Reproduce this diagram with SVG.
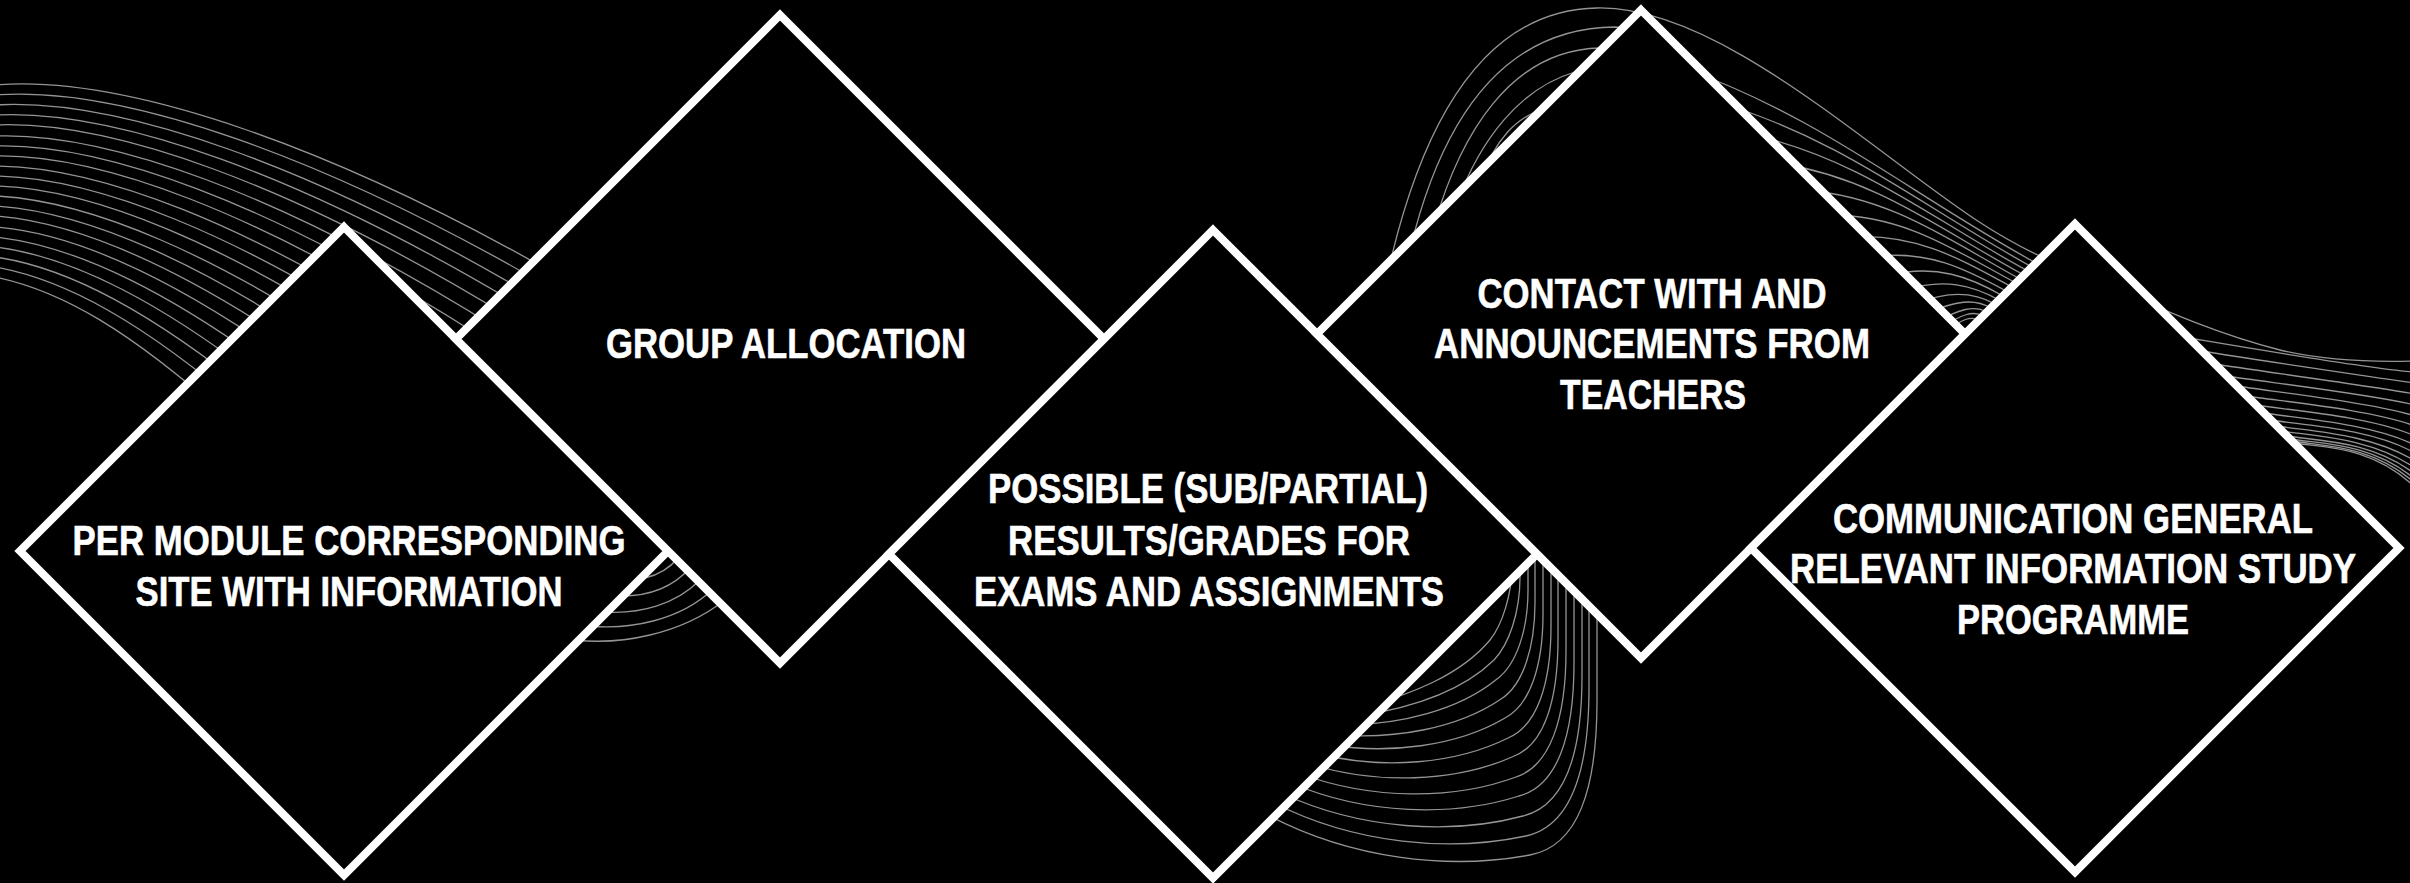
<svg xmlns="http://www.w3.org/2000/svg" width="2410" height="883" viewBox="0 0 2410 883">
<style>
.wave{fill:none;stroke:#949494;stroke-width:1.3}
.dia{fill:#000;stroke:#fff;stroke-width:8;stroke-linejoin:miter}
.lbl{fill:#fff;stroke:#fff;stroke-width:0.6px;font-family:"Liberation Sans Narrow","Arial Narrow","Liberation Sans",Arial,sans-serif;font-weight:700;font-size:42px;text-anchor:middle}
</style>
<rect width="2410" height="883" fill="#000"/>
<g id="waves" class="wave">
<path d="M-5,85 C120,75 330,140 600,300"/>
<path d="M-5,95 C117,86 320,150 581,306"/>
<path d="M-5,105 C114,98 309,160 561,313"/>
<path d="M-5,115 C111,109 298,170 542,319"/>
<path d="M-5,125 C107,120 288,180 522,325"/>
<path d="M-5,136 C104,132 277,190 503,332"/>
<path d="M-5,146 C101,143 267,200 483,338"/>
<path d="M-5,156 C98,154 256,210 464,344"/>
<path d="M-5,166 C95,166 246,220 444,351"/>
<path d="M-5,176 C92,177 235,230 425,357"/>
<path d="M-5,186 C88,188 225,240 405,363"/>
<path d="M-5,196 C85,200 214,250 386,370"/>
<path d="M-5,206 C82,211 204,260 366,376"/>
<path d="M-5,216 C79,222 193,270 347,382"/>
<path d="M-5,227 C76,233 183,280 327,388"/>
<path d="M-5,237 C73,245 172,290 308,395"/>
<path d="M-5,247 C70,256 162,300 288,401"/>
<path d="M-5,257 C66,267 151,310 269,407"/>
<path d="M-5,267 C63,279 141,320 250,414"/>
<path d="M-5,277 C60,290 130,330 230,420"/>
<path d="M575,640 C620,645 680,635 725,600"/>
<path d="M590,626 C630,630 680,620 712,590"/>
<path d="M605,612 C640,614 675,605 700,580"/>
<path d="M622,596 C650,596 672,588 690,568"/>
<path d="M645,578 C658,575 668,570 678,558"/>
<path d="M1262,812 C1350,860 1450,870 1530,855 C1578,846 1597,790 1597,700 L1597,540"/>
<path d="M1272,802 C1356,845 1451,852 1526,836 C1571,826 1589,772 1589,688 L1589,540"/>
<path d="M1281,793 C1361,830 1452,835 1523,816 C1564,806 1582,755 1582,676 L1582,540"/>
<path d="M1291,783 C1366,815 1453,817 1519,796 C1557,786 1574,737 1574,663 L1574,540"/>
<path d="M1301,774 C1372,800 1454,800 1516,777 C1550,766 1566,719 1566,651 L1566,540"/>
<path d="M1310,764 C1377,785 1455,782 1512,757 C1544,746 1558,701 1558,639 L1558,540"/>
<path d="M1320,754 C1383,770 1456,764 1508,738 C1537,726 1551,684 1551,626 L1551,540"/>
<path d="M1330,745 C1388,754 1456,747 1505,718 C1530,705 1543,666 1543,614 L1543,540"/>
<path d="M1339,735 C1394,739 1457,729 1501,699 C1523,685 1535,648 1535,602 L1535,540"/>
<path d="M1349,725 C1399,724 1458,711 1497,679 C1516,665 1528,631 1528,590 L1528,540"/>
<path d="M1358,716 C1405,709 1459,694 1494,660 C1509,644 1520,613 1520,577 L1520,540"/>
<path d="M1368,706 C1410,694 1460,676 1490,640 C1502,625 1512,595 1512,565 L1512,540"/>
<path d="M1388,272 C1420,130 1480,10 1597,8 C1690,6 1800,90 1900,165 C1960,210 2000,240 2060,265 C2130,294 2200,330 2280,350 C2330,362 2380,362 2415,361"/>
<path d="M1410,250 C1440,125 1500,28 1615,27 L1645,30"/>
<path d="M1434,226 C1460,135 1510,50 1600,48 L1630,52"/>
<path d="M1457,203 C1480,140 1520,88 1575,72 L1600,70"/>
<path d="M1481,180 C1495,140 1515,118 1545,108 L1560,105"/>
<path d="M1683,68 C1820,116 1913,196 2036,263 L2189,338 C2219,343 2370,369 2415,372"/>
<path d="M1717,102 C1841,138 1924,208 2032,267 L2202,351 C2232,356 2370,377 2415,383"/>
<path d="M1749,134 C1860,158 1933,220 2028,271 L2215,364 C2245,369 2370,386 2415,394"/>
<path d="M1778,163 C1877,178 1942,231 2024,275 L2227,376 C2257,381 2370,394 2415,405"/>
<path d="M1805,190 C1892,197 1950,241 2020,279 L2237,386 C2267,391 2370,402 2415,416"/>
<path d="M1830,215 C1905,215 1956,251 2016,283 L2247,396 C2277,401 2370,409 2415,426"/>
<path d="M1852,237 C1917,233 1962,260 2012,287 L2256,405 C2286,410 2370,416 2415,436"/>
<path d="M1872,257 C1927,249 1966,269 2008,292 L2264,413 C2294,418 2370,423 2415,445"/>
<path d="M1890,275 C1936,264 1970,277 2003,296 L2271,420 C2301,425 2370,428 2415,453"/>
<path d="M1905,290 C1944,278 1972,285 1999,300 L2277,426 C2307,431 2370,433 2415,461"/>
<path d="M1918,303 C1950,290 1974,292 1995,304 L2282,431 C2312,436 2370,437 2415,468"/>
<path d="M1928,313 C1955,301 1974,298 1991,308 L2287,436 C2317,441 2370,440 2415,474"/>
<path d="M1937,322 C1959,309 1974,305 1987,312 L2290,439 C2320,444 2370,442 2415,479"/>
<path d="M1942,327 C1961,315 1973,310 1983,316 L2292,441 C2322,446 2370,444 2415,483"/>
<path d="M1946,331 C1962,319 1971,316 1979,320 L2294,443 C2324,448 2370,445 2415,487"/>
</g>
<g id="connectors"></g>
<g id="node-per-module">
<polygon class="dia" points="344,227 668,551 344,875 20,551"/>
<text class="lbl" x="349" y="555" textLength="553" lengthAdjust="spacingAndGlyphs">PER MODULE CORRESPONDING</text>
<text class="lbl" x="349" y="606" textLength="427" lengthAdjust="spacingAndGlyphs">SITE WITH INFORMATION</text>
</g>
<g id="node-group-allocation">
<polygon class="dia" points="780,15 1104,339 780,663 456,339"/>
<text class="lbl" x="786" y="358" textLength="360" lengthAdjust="spacingAndGlyphs">GROUP ALLOCATION</text>
</g>
<g id="node-results">
<polygon class="dia" points="1213,230 1537,554 1213,878 889,554"/>
<text class="lbl" x="1208" y="503" textLength="440" lengthAdjust="spacingAndGlyphs">POSSIBLE (SUB/PARTIAL)</text>
<text class="lbl" x="1209" y="555" textLength="402" lengthAdjust="spacingAndGlyphs">RESULTS/GRADES FOR</text>
<text class="lbl" x="1209" y="606" textLength="470" lengthAdjust="spacingAndGlyphs">EXAMS AND ASSIGNMENTS</text>
</g>
<g id="node-contact">
<polygon class="dia" points="1641,10 1965,334 1641,658 1317,334"/>
<text class="lbl" x="1652" y="308" textLength="349" lengthAdjust="spacingAndGlyphs">CONTACT WITH AND</text>
<text class="lbl" x="1652" y="358" textLength="436" lengthAdjust="spacingAndGlyphs">ANNOUNCEMENTS FROM</text>
<text class="lbl" x="1653" y="409" textLength="186" lengthAdjust="spacingAndGlyphs">TEACHERS</text>
</g>
<g id="node-communication">
<polygon class="dia" points="2075,224 2399,548 2075,872 1751,548"/>
<text class="lbl" x="2073" y="533" textLength="480" lengthAdjust="spacingAndGlyphs">COMMUNICATION GENERAL</text>
<text class="lbl" x="2073" y="583" textLength="566" lengthAdjust="spacingAndGlyphs">RELEVANT INFORMATION STUDY</text>
<text class="lbl" x="2073" y="634" textLength="232" lengthAdjust="spacingAndGlyphs">PROGRAMME</text>
</g>
</svg>
